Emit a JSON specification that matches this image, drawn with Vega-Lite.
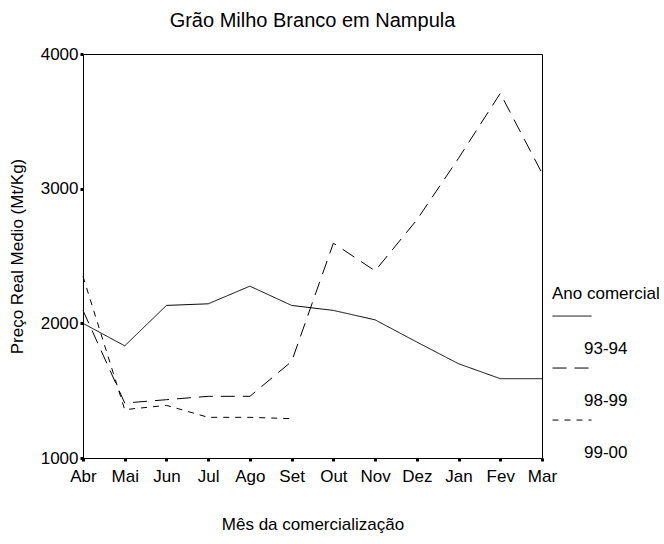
{
  "$schema": "https://vega.github.io/schema/vega-lite/v6.json",
  "width": 459,
  "height": 404,
  "autosize": {"type": "none"},
  "padding": {"left": 83, "top": 54, "right": 122, "bottom": 86},
  "background": "white",
  "title": {
    "text": "Grão Milho Branco em Nampula",
    "font": "Liberation Sans",
    "fontSize": 20,
    "fontWeight": "normal",
    "color": "black",
    "anchor": "middle",
    "offset": 14
  },
  "config": {
    "view": {"stroke": "black", "strokeWidth": 1},
    "axis": {
      "labelFont": "Liberation Sans",
      "titleFont": "Liberation Sans",
      "labelFontSize": 17,
      "titleFontSize": 17,
      "titleFontWeight": "normal",
      "labelColor": "black",
      "titleColor": "black",
      "domainColor": "black",
      "tickColor": "black",
      "tickSize": 3,
      "tickWidth": 3,
      "grid": false
    },
    "legend": {
      "labelFont": "Liberation Sans",
      "titleFont": "Liberation Sans"
    }
  },
  "data": {
    "values": [
      {"mes": "Abr", "ano": "93-94", "preco": 2000},
      {"mes": "Mai", "ano": "93-94", "preco": 1833},
      {"mes": "Jun", "ano": "93-94", "preco": 2133},
      {"mes": "Jul", "ano": "93-94", "preco": 2145},
      {"mes": "Ago", "ano": "93-94", "preco": 2276},
      {"mes": "Set", "ano": "93-94", "preco": 2133},
      {"mes": "Out", "ano": "93-94", "preco": 2096},
      {"mes": "Nov", "ano": "93-94", "preco": 2026},
      {"mes": "Dez", "ano": "93-94", "preco": 1861},
      {"mes": "Jan", "ano": "93-94", "preco": 1700},
      {"mes": "Fev", "ano": "93-94", "preco": 1589},
      {"mes": "Mar", "ano": "93-94", "preco": 1589},
      {"mes": "Abr", "ano": "98-99", "preco": 2096},
      {"mes": "Mai", "ano": "98-99", "preco": 1408},
      {"mes": "Jun", "ano": "98-99", "preco": 1433},
      {"mes": "Jul", "ano": "98-99", "preco": 1458},
      {"mes": "Ago", "ano": "98-99", "preco": 1458},
      {"mes": "Set", "ano": "98-99", "preco": 1717},
      {"mes": "Out", "ano": "98-99", "preco": 2595},
      {"mes": "Nov", "ano": "98-99", "preco": 2390},
      {"mes": "Dez", "ano": "98-99", "preco": 2768},
      {"mes": "Jan", "ano": "98-99", "preco": 3226},
      {"mes": "Fev", "ano": "98-99", "preco": 3708},
      {"mes": "Mar", "ano": "98-99", "preco": 3115},
      {"mes": "Abr", "ano": "99-00", "preco": 2348},
      {"mes": "Mai", "ano": "99-00", "preco": 1359},
      {"mes": "Jun", "ano": "99-00", "preco": 1391},
      {"mes": "Jul", "ano": "99-00", "preco": 1302},
      {"mes": "Ago", "ano": "99-00", "preco": 1302},
      {"mes": "Set", "ano": "99-00", "preco": 1292}
    ]
  },
  "mark": {"type": "line", "color": "black", "strokeWidth": 1},
  "encoding": {
    "x": {
      "field": "mes",
      "type": "ordinal",
      "sort": ["Abr", "Mai", "Jun", "Jul", "Ago", "Set", "Out", "Nov", "Dez", "Jan", "Fev", "Mar"],
      "scale": {"type": "point", "padding": 0},
      "axis": {"title": "Mês da comercialização", "labelAngle": 0, "labelPadding": 7, "titlePadding": 32}
    },
    "y": {
      "field": "preco",
      "type": "quantitative",
      "scale": {"domain": [1000, 4000], "nice": false, "zero": false},
      "axis": {"title": "Preço Real Medio (Mt/Kg)", "values": [1000, 2000, 3000, 4000], "format": "d", "labelPadding": 2, "titlePadding": 14}
    },
    "strokeDash": {
      "field": "ano",
      "type": "nominal",
      "scale": {"domain": ["93-94", "98-99", "99-00"], "range": [[1, 0], [14, 8], [6, 6]]},
      "legend": {
        "title": "Ano comercial",
        "orient": "none",
        "legendX": 469,
        "legendY": 232,
        "titleFontSize": 17,
        "titleFontWeight": "normal",
        "titleColor": "black",
        "titlePadding": 26,
        "labelFontSize": 17,
        "labelColor": "black",
        "labelBaseline": "middle",
        "labelOffset": -8,
        "symbolType": "M-1,-1.69L1,-1.69",
        "symbolSize": 1521,
        "symbolStrokeColor": "black",
        "symbolStrokeWidth": 1,
        "rowPadding": 9
      }
    }
  }
}
